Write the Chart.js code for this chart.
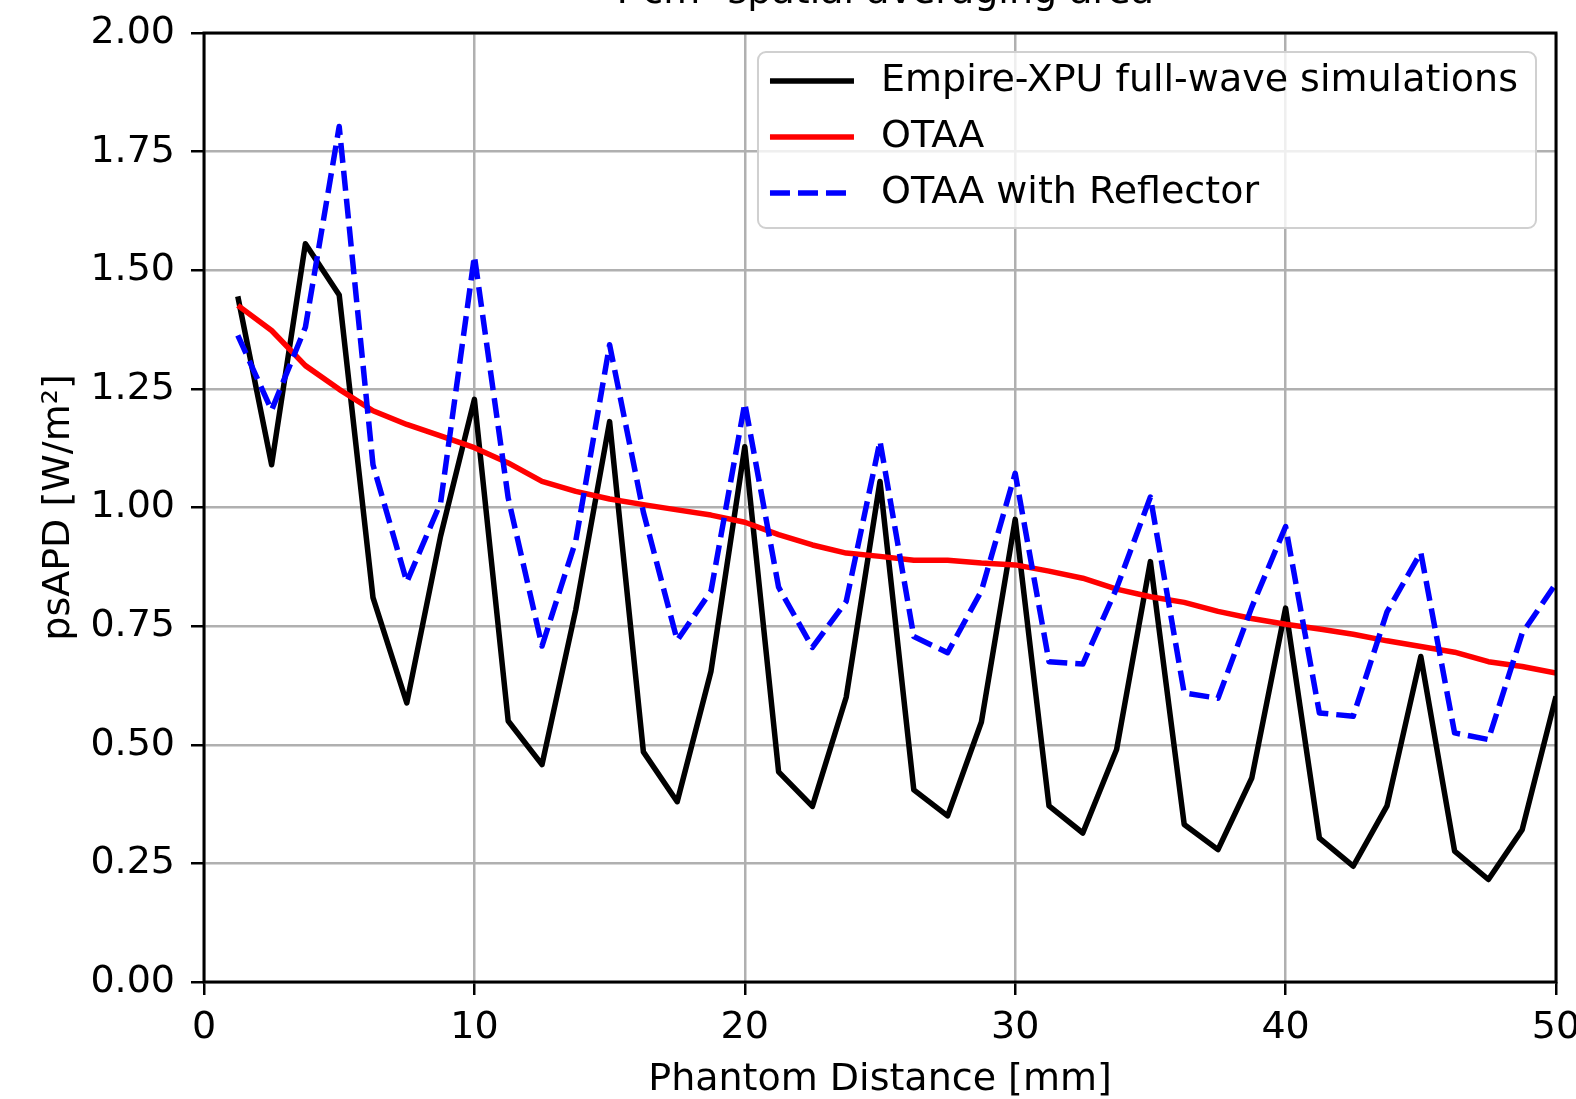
<!DOCTYPE html>
<html>
<head>
<meta charset="utf-8">
<script src="https://cdn.jsdelivr.net/npm/chart.js@4"></script>
<style>
  html, body { margin: 0; padding: 0; background: #fff; overflow: hidden; }
  #wrap { position: absolute; left: 0; top: -30px; width: 1576px; height: 1135px; }
</style>
</head>
<body>
<div id="wrap"><canvas id="ChartAPD"></canvas></div>
<script>
// phantom distance [mm]
const distance = [1.25, 2.5, 3.75, 5, 6.25, 7.5, 8.75, 10, 11.25, 12.5, 13.75, 15, 16.25, 17.5, 18.75, 20,
    21.25, 22.5, 23.75, 25, 26.25, 27.5, 28.75, 30, 31.25, 32.5, 33.75, 35, 36.25, 37.5, 38.75, 40,
    41.25, 42.5, 43.75, 45, 46.25, 47.5, 48.75, 50];

// psAPD [W/m²]
const empireXpu = [1.445, 1.09, 1.556, 1.448, 0.81, 0.588, 0.94, 1.228, 0.55, 0.458, 0.785, 1.181, 0.485, 0.38, 0.655, 1.128,
    0.443, 0.37, 0.6, 1.055, 0.405, 0.35, 0.548, 0.975, 0.371, 0.314, 0.49, 0.886, 0.332, 0.279, 0.43, 0.788,
    0.303, 0.244, 0.371, 0.686, 0.276, 0.216, 0.321, 0.602];
const otaa = [1.426, 1.373, 1.299, 1.249, 1.204, 1.175, 1.151, 1.126, 1.094, 1.055, 1.034, 1.018, 1.006, 0.995, 0.984, 0.969,
    0.943, 0.921, 0.904, 0.897, 0.889, 0.889, 0.883, 0.879, 0.866, 0.851, 0.828, 0.812, 0.8, 0.781, 0.766, 0.754,
    0.744, 0.733, 0.719, 0.707, 0.695, 0.675, 0.665, 0.651];
const otaaReflector = [1.363, 1.205, 1.38, 1.803, 1.09, 0.843, 1.01, 1.53, 1.02, 0.708, 0.93, 1.343, 0.99, 0.72, 0.824, 1.22,
    0.832, 0.705, 0.802, 1.14, 0.728, 0.694, 0.824, 1.072, 0.675, 0.67, 0.83, 1.022, 0.609, 0.598, 0.79, 0.96,
    0.567, 0.56, 0.78, 0.905, 0.525, 0.511, 0.735, 0.84];

const xTicks = [0, 10, 20, 30, 40, 50];
const yTicks = [0, 0.25, 0.5, 0.75, 1, 1.25, 1.5, 1.75, 2];

const FONT = 'DejaVu Sans';
const FONT_SIZE = 38;

function toPoints(ys) {
    return distance.map((x, i) => ({ x: x, y: ys[i] }));
}

// frame on all four sides + legend box like matplotlib
const frameAndLegend = {
    id: 'frameAndLegend',
    afterDatasetsDraw(chart) {
        const { ctx, chartArea: a } = chart;
        ctx.save();
        ctx.strokeStyle = '#000';
        ctx.lineWidth = 3;
        ctx.strokeRect(a.left, a.top, a.right - a.left, a.bottom - a.top);

        ctx.font = FONT_SIZE + 'px "' + FONT + '"';
        const sets = chart.data.datasets;
        const textW = Math.max(...sets.map(d => ctx.measureText(d.label).width));
        const right = a.right - 20;
        const top = a.top + 19;
        const w = 123 + textW + 18;
        const h = 176;
        const left = right - w;

        ctx.beginPath();
        ctx.roundRect(left, top, w, h, 8);
        ctx.fillStyle = 'rgba(255,255,255,0.8)';
        ctx.fill();
        ctx.strokeStyle = '#d0d0d0';
        ctx.lineWidth = 2;
        ctx.stroke();

        sets.forEach((d, i) => {
            const y = top + 29 + i * 56;
            ctx.beginPath();
            ctx.setLineDash(d.borderDash || []);
            ctx.strokeStyle = d.borderColor;
            ctx.lineWidth = d.borderWidth;
            ctx.moveTo(left + 12, y);
            ctx.lineTo(left + 96, y);
            ctx.stroke();
            ctx.setLineDash([]);
            ctx.fillStyle = '#000';
            ctx.textBaseline = 'middle';
            ctx.textAlign = 'left';
            ctx.fillText(d.label, left + 123, y);
        });
        ctx.restore();
    }
};

const ctx = document.getElementById('ChartAPD').getContext('2d');

const chartAPD = new Chart(ctx, {
    type: 'line',
    data: {
        datasets: [
            {
                label: 'Empire-XPU full-wave simulations',
                data: toPoints(empireXpu),
                borderColor: '#000000',
                borderWidth: 5.5,
                order: 3
            },
            {
                label: 'OTAA',
                data: toPoints(otaa),
                borderColor: '#ff0000',
                borderWidth: 5.5,
                order: 2
            },
            {
                label: 'OTAA with Reflector',
                data: toPoints(otaaReflector),
                borderColor: '#0000ff',
                borderWidth: 5.5,
                borderDash: [20, 8],
                order: 1
            }
        ]
    },
    options: {
        responsive: true,
        maintainAspectRatio: false,
        animation: false,
        layout: { padding: { left: 0, right: 20, top: 0, bottom: 0 } },
        elements: {
            point: { radius: 0 },
            line: { tension: 0, borderJoinStyle: 'round', fill: false }
        },
        plugins: {
            title: {
                display: true,
                fullSize: false,
                text: '4 cm² spatial averaging area',
                color: '#000',
                font: { family: FONT, size: FONT_SIZE, weight: 'normal' },
                padding: { top: 0, bottom: 17.4 }
            },
            legend: { display: false },
            tooltip: { enabled: false }
        },
        scales: {
            x: {
                type: 'linear',
                min: 0,
                max: 50,
                afterBuildTicks: s => { s.ticks = xTicks.map(v => ({ value: v })); },
                afterFit: s => { s.height = 123; s.paddingLeft = 0; s.paddingRight = 0; },
                ticks: {
                    color: '#000',
                    font: { family: FONT, size: FONT_SIZE },
                    padding: 10,
                    maxRotation: 0,
                    callback: v => String(v)
                },
                grid: { color: '#b0b0b0', lineWidth: 2.5, tickColor: '#000', tickLength: 13, tickWidth: 2.5 },
                border: { display: false },
                title: {
                    display: true,
                    text: 'Phantom Distance [mm]',
                    color: '#000',
                    font: { family: FONT, size: FONT_SIZE },
                    padding: { top: 0, bottom: 2 }
                }
            },
            y: {
                min: 0,
                max: 2,
                afterBuildTicks: s => { s.ticks = yTicks.map(v => ({ value: v })); },
                afterFit: s => { s.width = 204; s.paddingTop = 0; s.paddingBottom = 0; },
                ticks: {
                    color: '#000',
                    font: { family: FONT, size: FONT_SIZE },
                    padding: 16,
                    callback: v => Number(v).toFixed(2)
                },
                grid: { color: '#b0b0b0', lineWidth: 2.5, tickColor: '#000', tickLength: 13, tickWidth: 2.5 },
                border: { display: false },
                title: {
                    display: true,
                    text: 'psAPD [W/m²]',
                    color: '#000',
                    font: { family: FONT, size: FONT_SIZE },
                    padding: { top: 36, bottom: 0 }
                }
            }
        }
    },
    plugins: [frameAndLegend]
});
</script>
</body>
</html>
